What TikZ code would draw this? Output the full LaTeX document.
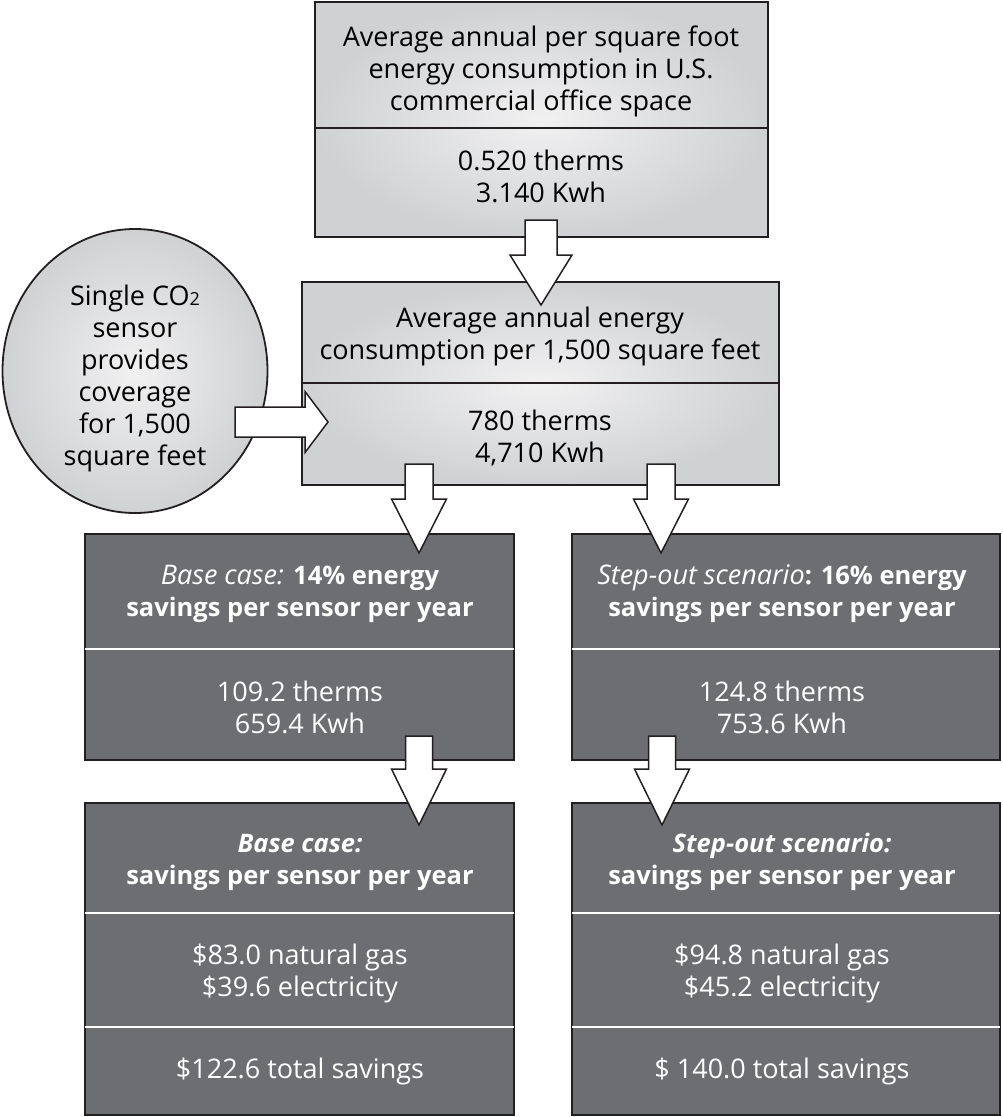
\documentclass[tikz,border=0pt]{standalone}
\usepackage{fontspec}
\setmainfont{Open Sans}
\usetikzlibrary{shapes.geometric,calc}

\definecolor{edge}{RGB}{35,31,32}
\definecolor{lightin}{RGB}{241,241,242}
\definecolor{lightout}{RGB}{208,209,211}
\definecolor{darkfill}{RGB}{109,110,114}

% bold heading words, set a little smaller than the regular text
\newcommand{\hb}[1]{{\fontsize{25.5}{32}\selectfont\bfseries #1}}

% downward block arrow: start, tip, shaft half-width, head half-width, head length
\newcommand{\downblock}[5]{%
  \draw[blockarrow] let \p1=(#1), \p2=(#2) in
    (\x1-#3pt,\y1) -- (\x1+#3pt,\y1) -- (\x1+#3pt,\y2+#5pt) -- (\x1+#4pt,\y2+#5pt)
    -- (\x2,\y2) -- (\x1-#4pt,\y2+#5pt) -- (\x1-#3pt,\y2+#5pt) -- cycle;}

\begin{document}
\begin{tikzpicture}[x=1pt,y=-1pt,
  lightbox/.style={draw=edge, line width=1.8pt, inner sep=0pt, outer sep=0pt,
    inner color=lightin, outer color=lightout},
  darkbox/.style={draw=edge, line width=1.8pt, fill=darkfill, inner sep=0pt, outer sep=0pt},
  txt/.style={align=center, inner sep=0pt, font=\fontsize{27}{32}\selectfont},
  wtxt/.style={txt, text=white},
  darkrule/.style={draw=edge, line width=1.5pt},
  whiterule/.style={draw=white, line width=1.5pt},
  blockarrow/.style={fill=white, draw=edge, line width=1.5pt, line join=miter}
]
\useasboundingbox (0,0) rectangle (1002,1117);

% boxes
\node[lightbox, minimum width=453pt, minimum height=235pt] (topbox) at (541.5,119.5) {};
\node[lightbox, minimum width=477pt, minimum height=203pt] (midbox) at (540.5,383.5) {};
\node[lightbox, ellipse, minimum width=265pt, minimum height=284pt] (sensor) at (135,371) {};
\node[darkbox, minimum width=429pt, minimum height=226pt] (base1) at (299.5,647) {};
\node[darkbox, minimum width=428pt, minimum height=226pt] (step1) at (786,647) {};
\node[darkbox, minimum width=429pt, minimum height=312pt] (base2) at (299.5,959) {};
\node[darkbox, minimum width=428pt, minimum height=312pt] (step2) at (786,959) {};

% section dividers
\coordinate (ytop) at (0,128);
\coordinate (ymid) at (0,383);
\coordinate (yrow) at (0,649);
\coordinate (yrowa) at (0,913);
\coordinate (yrowb) at (0,1027);
\draw[darkrule] (topbox.west |- ytop) -- (topbox.east |- ytop);
\draw[darkrule] (midbox.west |- ymid) -- (midbox.east |- ymid);
\draw[whiterule] (base1.west |- yrow) -- (base1.east |- yrow);
\draw[whiterule] (step1.west |- yrow) -- (step1.east |- yrow);
\draw[whiterule] (base2.west |- yrowa) -- (base2.east |- yrowa);
\draw[whiterule] (step2.west |- yrowa) -- (step2.east |- yrowa);
\draw[whiterule] (base2.west |- yrowb) -- (base2.east |- yrowb);
\draw[whiterule] (step2.west |- yrowb) -- (step2.east |- yrowb);

% texts
\node[txt] (toptitle) at (541,71) {Average annual per square foot\\energy consumption in U.S.\\commercial office space};
\node[txt] (topvals) at (541,176) {0.520 therms\\3.140 Kwh};
\node[txt] (midtitle) at (540,336) {Average annual energy\\consumption per 1,500 square feet};
\node[txt] (midvals) at (540,438) {780 therms\\4,710 Kwh};
\node[txt] (sensortext) at (135,378) {Single CO{\fontsize{18}{18}\selectfont 2}\\sensor\\provides\\coverage\\for 1,500\\square feet};

\node[wtxt] (base1title) at (300,594) {{\itshape Base case:} \hb{14\% energy}\\\hb{savings per sensor per year}};
\node[wtxt] (base1vals) at (300,707) {109.2 therms\\659.4 Kwh};
\node[wtxt] (step1title) at (782,594) {{\itshape Step-out scenario}\hb{: 16\% energy}\\\hb{savings per sensor per year}};
\node[wtxt] (step1vals) at (782,707) {124.8 therms\\753.6 Kwh};

\node[wtxt] (base2title) at (300,862) {\hb{\itshape Base case:}\\\hb{savings per sensor per year}};
\node[wtxt] (base2vals) at (300,973) {\$83.0 natural gas\\\$39.6 electricity};
\node[wtxt] (base2total) at (300,1071) {\$122.6 total savings};
\node[wtxt] (step2title) at (782,862) {\hb{\itshape Step-out scenario:}\\\hb{savings per sensor per year}};
\node[wtxt] (step2vals) at (782,973) {\$94.8 natural gas\\\$45.2 electricity};
\node[wtxt] (step2total) at (782,1071) {\$ 140.0 total savings};

% block arrow end points
\coordinate (a0s) at (541,220);  \coordinate (a0t) at (541,305);
\coordinate (a1s) at (419,464);  \coordinate (a1t) at (419,553);
\coordinate (a2s) at (661,464);  \coordinate (a2t) at (661,553);
\coordinate (a3s) at (419,736);  \coordinate (a3t) at (419,825);
\coordinate (a4s) at (662,736);  \coordinate (a4t) at (662,825);
\coordinate (ss) at (235,422);   \coordinate (st) at (328,422);

\downblock{a0s}{a0t}{16}{31}{50}
\downblock{a1s}{a1t}{14}{27.5}{54}
\downblock{a2s}{a2t}{14}{27.5}{54}
\downblock{a3s}{a3t}{13.5}{27.5}{56}
\downblock{a4s}{a4t}{13.5}{27.5}{56}

% sideways arrow from the sensor circle
\draw[blockarrow] let \p1=(ss), \p2=(st) in
  (\x1,\y1+15pt) -- (\x2-23pt,\y1+15pt) -- (\x2-23pt,\y1+30.5pt) -- (\x2,\y2)
  -- (\x2-23pt,\y1-30.5pt) -- (\x2-23pt,\y1-15pt) -- (\x1,\y1-15pt) -- cycle;
\end{tikzpicture}
\end{document}
